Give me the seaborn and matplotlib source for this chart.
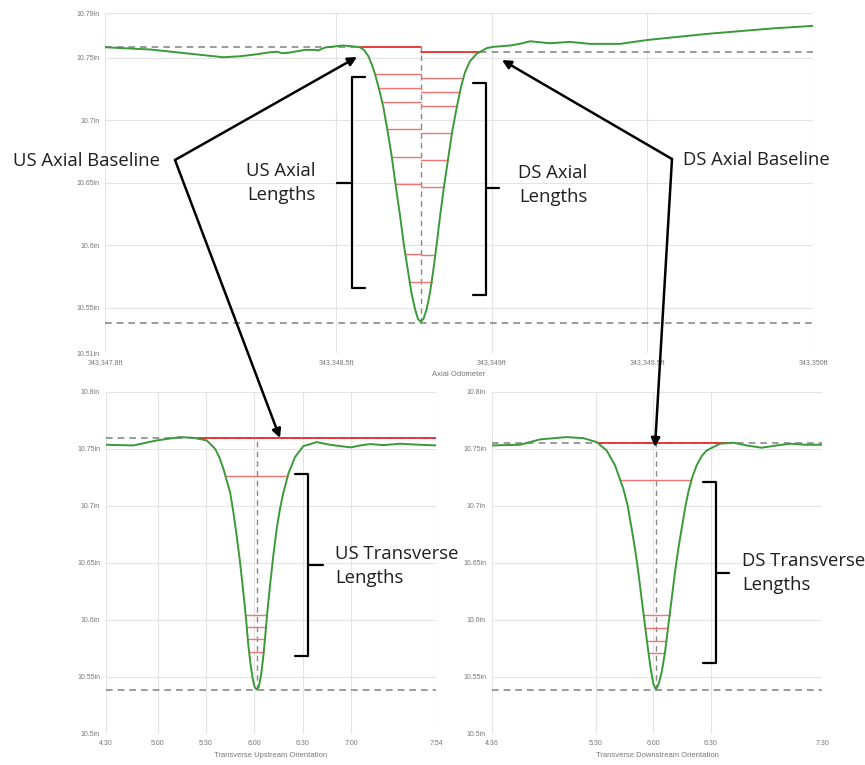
import numpy as np
import pandas as pd
import matplotlib
matplotlib.use("Agg")
import matplotlib.pyplot as plt
import seaborn as sns
from matplotlib.lines import Line2D

# ---------------- data: axial profile (top) ----------------
axial_ft = [343347.758, 343347.903, 343348.032, 343348.138, 343348.192, 343348.240,
            343348.288, 343348.311, 343348.327, 343348.352, 343348.400, 343348.432,
            343348.442, 343348.465, 343348.522, 343348.555, 343348.577, 343348.590,
            343348.604, 343348.614, 343348.625, 343348.638, 343348.652, 343348.665,
            343348.679, 343348.692, 343348.706, 343348.718, 343348.732, 343348.742,
            343348.754, 343348.763, 343348.772, 343348.781, 343348.791, 343348.802,
            343348.812, 343348.823, 343348.834, 343348.847, 343348.861, 343348.874,
            343348.888, 343348.901, 343348.914, 343348.930, 343348.952, 343348.984,
            343349.004, 343349.059, 343349.091, 343349.123, 343349.187, 343349.251,
            343349.316, 343349.412, 343349.499, 343349.692, 343349.904, 343350.032]
axial_in = [10.7582, 10.7564, 10.7530, 10.7502, 10.7510, 10.7524,
            10.7542, 10.7546, 10.7534, 10.7540, 10.7561, 10.7561,
            10.7556, 10.7580, 10.7596, 10.7589, 10.7582, 10.7560,
            10.7510, 10.7450, 10.7370, 10.7250, 10.7104, 10.6920,
            10.6706, 10.6470, 10.6228, 10.6000, 10.5778, 10.5620,
            10.5486, 10.5410, 10.5385, 10.5410, 10.5486, 10.5620,
            10.5790, 10.6000, 10.6228, 10.6470, 10.6706, 10.6920,
            10.7104, 10.7260, 10.7380, 10.7470, 10.7530, 10.7575,
            10.7585, 10.7596, 10.7610, 10.7630, 10.7614, 10.7625,
            10.7609, 10.7609, 10.7640, 10.7689, 10.7733, 10.7753]
axial_us_base = 10.7582
axial_ds_base = 10.7545
axial_floor = 10.538
axial_us_levels = [10.7368, 10.7254, 10.7146, 10.6926, 10.6702, 10.6486, 10.5928, 10.5706]
axial_ds_levels = [10.7334, 10.7222, 10.7114, 10.6898, 10.6680, 10.6466, 10.5920, 10.5702]
axial_xlim = (343347.758, 343350.032)
axial_ylim = (10.5136, 10.7856)
axial_xticks = [343347.758, 343348.5, 343349.0, 343349.5, 343350.032]
axial_xticklabels = ["343,347.8ft", "343,348.5ft", "343,349ft", "343,349.5ft", "343,350ft"]
axial_yticks = [10.5136, 10.55, 10.6, 10.65, 10.7, 10.75, 10.7856]
axial_yticklabels = ["10.51in", "10.55in", "10.6in", "10.65in", "10.7in", "10.75in", "10.79in"]

# ---------------- data: transverse upstream (bottom-left) ----------------
us_pos = [4.464, 4.750, 4.991, 5.232, 5.370, 5.508, 5.594, 5.638, 5.680, 5.714,
          5.749, 5.783, 5.817, 5.852, 5.886, 5.914, 5.938, 5.962, 5.983, 6.003,
          6.024, 6.045, 6.069, 6.090, 6.110, 6.134, 6.162, 6.196, 6.231, 6.262,
          6.293, 6.351, 6.420, 6.506, 6.644, 6.782, 6.919, 6.999, 7.092, 7.195,
          7.333, 7.505, 7.711, 7.877]
us_in = [10.7535, 10.7529, 10.7573, 10.7602, 10.7596, 10.7573, 10.7500, 10.7427, 10.7325, 10.7222,
         10.7120, 10.6945, 10.6740, 10.6507, 10.6244, 10.6010, 10.5776, 10.5601, 10.5484, 10.5411,
         10.5390, 10.5411, 10.5513, 10.5660, 10.5835, 10.6068, 10.6302, 10.6565, 10.6799, 10.6960,
         10.7091, 10.7281, 10.7427, 10.7523, 10.7558, 10.7535, 10.7520, 10.7512, 10.7529, 10.7541,
         10.7532, 10.7544, 10.7535, 10.7529]
us_base = 10.7590
us_floor = 10.5388
us_levels = [10.7260, 10.6045, 10.5937, 10.5829, 10.5718]
us_xlim = (4.464, 7.877)
us_xticks = [4.464, 5.0, 5.5, 6.0, 6.5, 7.0, 7.877]
us_xticklabels = ["4:30", "5:00", "5:30", "6:00", "6:30", "7:00", "7:54"]

# ---------------- data: transverse downstream (bottom-right) ----------------
ds_pos = [4.590, 4.837, 5.012, 5.244, 5.390, 5.506, 5.593, 5.666, 5.738, 5.776,
          5.811, 5.840, 5.869, 5.898, 5.927, 5.953, 5.977, 6.000, 6.023, 6.047,
          6.073, 6.102, 6.131, 6.160, 6.189, 6.218, 6.247, 6.276, 6.305, 6.340,
          6.378, 6.422, 6.465, 6.581, 6.698, 6.814, 6.945, 7.076, 7.192, 7.337,
          7.474]
ds_in = [10.7529, 10.7535, 10.7582, 10.7602, 10.7593, 10.7558, 10.7485, 10.7354, 10.7150, 10.7003,
         10.6799, 10.6624, 10.6419, 10.6185, 10.5952, 10.5747, 10.5572, 10.5440, 10.5390, 10.5440,
         10.5543, 10.5718, 10.5952, 10.6185, 10.6419, 10.6624, 10.6799, 10.6974, 10.7120, 10.7252,
         10.7354, 10.7436, 10.7485, 10.7544, 10.7553, 10.7529, 10.7509, 10.7529, 10.7544, 10.7535,
         10.7535]
ds_base = 10.7550
ds_floor = 10.5388
ds_levels = [10.7222, 10.6039, 10.5928, 10.5818, 10.5707]
ds_xlim = (4.590, 7.474)
ds_xticks = [4.590, 5.5, 6.0, 6.5, 7.474]
ds_xticklabels = ["4:36", "5:30", "6:00", "6:30", "7:30"]

tr_ylim = (10.5, 10.8)
tr_yticks = [10.5, 10.55, 10.6, 10.65, 10.7, 10.75, 10.8]
tr_yticklabels = ["10.5in", "10.55in", "10.6in", "10.65in", "10.7in", "10.75in", "10.8in"]

# ---------------- styling ----------------
sns.set_theme(style="whitegrid")
plt.rcParams['font.family'] = ['Liberation Sans', 'DejaVu Sans']

GREEN = "#3a9a3a"
RED = "#ee2a2a"
PINK = "#f07474"
DASH = "#8a8a8a"
GRID = "#e4e4e4"
TICK = "#777777"

W, H = 865, 765
fig = plt.figure(figsize=(W / 100, H / 100), dpi=100)
fig.patch.set_facecolor("white")


def box(l, t, r, b):
    return [l / W, 1 - b / H, (r - l) / W, (b - t) / H]


def fpt(x, y):
    return (x / W, 1 - y / H)


def crossing(xs, ys, level, side):
    xs = np.asarray(xs, float)
    ys = np.asarray(ys, float)
    i0 = int(np.argmin(ys))
    rng = range(i0, 0, -1) if side == "left" else range(i0, len(xs) - 1)
    for i in rng:
        j = i - 1 if side == "left" else i + 1
        if ys[j] >= level:
            return xs[i] + (level - ys[i]) * (xs[j] - xs[i]) / (ys[j] - ys[i])
    return xs[0] if side == "left" else xs[-1]


def style_axes(ax, xlim, ylim, xticks, xlabels, yticks, ylabels, xlabel):
    ax.set_xlim(*xlim)
    ax.set_ylim(*ylim)
    ax.set_xticks(xticks)
    ax.set_xticklabels(xlabels)
    ax.set_yticks(yticks)
    ax.set_yticklabels(ylabels)
    ax.grid(True, color=GRID, lw=0.8)
    for s in ax.spines.values():
        s.set_visible(False)
    ax.tick_params(length=0, labelsize=5, labelcolor=TICK, pad=4)
    ax.set_xlabel(xlabel, fontsize=5.5, color=TICK, labelpad=4)
    ax.set_ylabel("")
    ax.set_facecolor("white")


dash_kw = dict(color=DASH, lw=1.2, dashes=(4, 3), zorder=2)

# ---------------- top: axial ----------------
ax1 = fig.add_axes(box(105, 13, 813, 353))
axial_df = pd.DataFrame({"ft": axial_ft, "in": axial_in})
xmin_ax = axial_ft[int(np.argmin(axial_in))]
us_start = crossing(axial_ft, axial_in, axial_us_base, "left")
ds_end = crossing(axial_ft, axial_in, axial_ds_base, "right")
ax1.plot([axial_xlim[0], us_start], [axial_us_base] * 2, **dash_kw)
ax1.plot([ds_end, axial_xlim[1]], [axial_ds_base] * 2, **dash_kw)
ax1.axhline(axial_floor, **dash_kw)
ax1.plot([xmin_ax, xmin_ax], [axial_floor, axial_us_base], color=DASH, lw=1.0, dashes=(4, 3), zorder=2)
ax1.plot([us_start, xmin_ax], [axial_us_base] * 2, color=RED, lw=1.3, zorder=3)
ax1.plot([xmin_ax, ds_end], [axial_ds_base] * 2, color=RED, lw=1.3, zorder=3)
for lv in axial_us_levels:
    ax1.plot([crossing(axial_ft, axial_in, lv, "left"), xmin_ax], [lv, lv], color=PINK, lw=1.0, zorder=3)
for lv in axial_ds_levels:
    ax1.plot([xmin_ax, crossing(axial_ft, axial_in, lv, "right")], [lv, lv], color=PINK, lw=1.0, zorder=3)
sns.lineplot(data=axial_df, x="ft", y="in", ax=ax1, color=GREEN, lw=1.4, sort=False, zorder=4)
style_axes(ax1, axial_xlim, axial_ylim, axial_xticks, axial_xticklabels,
           axial_yticks, axial_yticklabels, "Axial Odometer")


# ---------------- bottom: transverse ----------------
def transverse(ax, pos, vals, base, floor, levels, xlim, xticks, xlabels, xlabel):
    df = pd.DataFrame({"pos": pos, "in": vals})
    xm = pos[int(np.argmin(vals))]
    ax.axhline(base, **dash_kw)
    ax.axhline(floor, **dash_kw)
    ax.plot([xm, xm], [floor, base], color=DASH, lw=1.0, dashes=(4, 3), zorder=2)
    ax.plot([crossing(pos, vals, base, "left"), crossing(pos, vals, base, "right")],
            [base, base], color=RED, lw=1.3, zorder=3)
    for lv in levels:
        ax.plot([crossing(pos, vals, lv, "left"), crossing(pos, vals, lv, "right")],
                [lv, lv], color=PINK, lw=1.0, zorder=3)
    sns.lineplot(data=df, x="pos", y="in", ax=ax, color=GREEN, lw=1.4, sort=False, zorder=4)
    style_axes(ax, xlim, tr_ylim, xticks, xlabels, tr_yticks, tr_yticklabels, xlabel)


ax2 = fig.add_axes(box(105.7, 391.7, 436, 734))
transverse(ax2, us_pos, us_in, us_base, us_floor, us_levels, us_xlim, us_xticks,
           us_xticklabels, "Transverse Upstream Orientation")
ax3 = fig.add_axes(box(491.7, 391.7, 822.3, 734))
transverse(ax3, ds_pos, ds_in, ds_base, ds_floor, ds_levels, ds_xlim, ds_xticks,
           ds_xticklabels, "Transverse Downstream Orientation")

# ---------------- annotations ----------------
ann_font = dict(family=["Open Sans", "DejaVu Sans"], fontsize=13.3, color="#1f1f1f")
fig.text(*fpt(13, 161), "US Axial Baseline", ha="left", va="center", **ann_font)
fig.text(*fpt(683, 160), "DS Axial Baseline", ha="left", va="center", **ann_font)
fig.text(*fpt(281, 183), "US Axial\nLengths", ha="center", va="center", ma="center",
         linespacing=1.45, **ann_font)
fig.text(*fpt(553, 185), "DS Axial\nLengths", ha="center", va="center", ma="center",
         linespacing=1.45, **ann_font)
fig.text(*fpt(335, 566), "US Transverse\nLengths", ha="left", va="center", ma="left",
         linespacing=1.45, **ann_font)
fig.text(*fpt(742, 573), "DS Transverse\nLengths", ha="left", va="center", ma="left",
         linespacing=1.45, **ann_font)

arrows = [((175, 160), (357, 57)), ((175, 160), (280, 438)),
          ((672, 159), (502, 60)), ((672, 159), (655, 447))]
for (sx, sy), (ex, ey) in arrows:
    fig.add_artist(matplotlib.patches.FancyArrowPatch(
        fpt(sx, sy), fpt(ex, ey), transform=fig.transFigure, arrowstyle="-|>",
        mutation_scale=13, lw=1.8, color="black", shrinkA=0, shrinkB=0, zorder=10))


def bracket(x, top, bot, hook_x, notch_y, notch_x):
    pts = [(hook_x, top), (x, top), (x, bot), (hook_x, bot)]
    xs = [fpt(*p)[0] for p in pts]
    ys = [fpt(*p)[1] for p in pts]
    fig.add_artist(Line2D(xs, ys, transform=fig.transFigure, color="black", lw=1.6,
                          solid_joinstyle="round", zorder=10))
    a, b = fpt(x, notch_y), fpt(notch_x, notch_y)
    fig.add_artist(Line2D([a[0], b[0]], [a[1], b[1]], transform=fig.transFigure,
                          color="black", lw=1.6, zorder=10))


bracket(351.7, 76.7, 288, 365, 183, 336.7)
bracket(486, 83, 295, 473, 188, 499)
bracket(308, 474, 656, 295, 565, 323)
bracket(716, 482, 663, 703, 573, 729)

fig.savefig("out.png", dpi=100, facecolor="white")
